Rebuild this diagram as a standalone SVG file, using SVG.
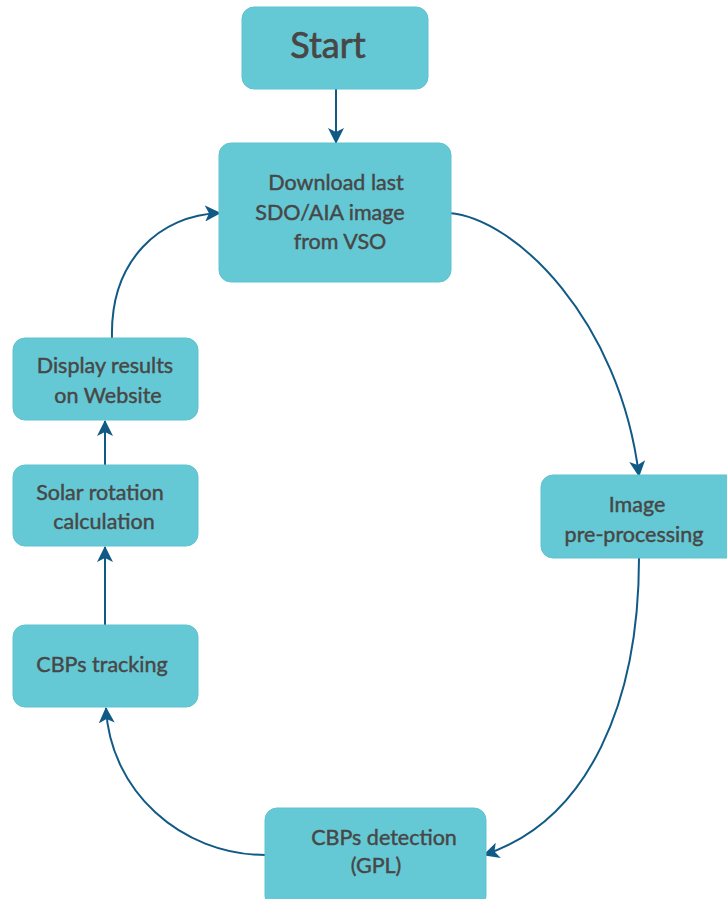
<svg xmlns="http://www.w3.org/2000/svg" width="727" height="899" viewBox="0 0 727 899">
  <style>
    .box { fill: #65c9d5; stroke: #5fc3d0; stroke-width: 1; }
    .label { font-family: Lato, "Liberation Sans", sans-serif; font-size: 21.5px; fill: #474747; stroke: #474747; stroke-width: 0.45; text-anchor: middle; }
    .title { font-size: 36px; stroke-width: 0.7; }
    .edge { fill: none; stroke: #115a85; stroke-width: 2; marker-end: url(#arrow); }
  </style>
  <defs>
    <marker id="arrow" viewBox="0 0 16 16" refX="15" refY="8" markerWidth="16" markerHeight="16" orient="auto" markerUnits="userSpaceOnUse">
      <path d="M0,0 L16,8 L0,16 L4,8 Z" fill="#115a85"/>
    </marker>
  </defs>
  <rect width="727" height="899" fill="#ffffff"/>

  <g id="connectors">
    <path class="edge" d="M336,89 L336,143"/>
    <path class="edge" d="M449,213 C515,218 620,320 639,476"/>
    <path class="edge" d="M639,558 C639,700 590,820 484,855"/>
    <path class="edge" d="M266,855 C180,855 110,790 106,708"/>
    <path class="edge" d="M105,625 L105,547"/>
    <path class="edge" d="M105,465 L105,421"/>
    <path class="edge" d="M112,338 C110,260 160,215 220,213"/>
  </g>

  <g id="start">
    <rect class="box" x="242" y="7" width="186" height="82" rx="12"/>
    <text class="label title" x="328" y="58">Start</text>
  </g>

  <g id="download">
    <rect class="box" x="219" y="143" width="232" height="139" rx="12"/>
    <text class="label" x="336" y="190">Download last</text>
    <text class="label" x="330" y="220">SDO/AIA image</text>
    <text class="label" x="340" y="249">from VSO</text>
  </g>

  <g id="preprocessing">
    <rect class="box" x="541" y="475" width="200" height="83" rx="12"/>
    <text class="label" x="637" y="512">Image</text>
    <text class="label" x="634" y="542">pre-processing</text>
  </g>

  <g id="detection">
    <rect class="box" x="265" y="808" width="221" height="100" rx="12"/>
    <text class="label" x="384" y="845">CBPs detection</text>
    <text class="label" x="376" y="873">(GPL)</text>
  </g>

  <g id="tracking">
    <rect class="box" x="13" y="625" width="185" height="82" rx="12"/>
    <text class="label" x="102" y="672">CBPs tracking</text>
  </g>

  <g id="rotation">
    <rect class="box" x="13" y="465" width="185" height="81" rx="12"/>
    <text class="label" x="100" y="500">Solar rotation</text>
    <text class="label" x="104" y="529">calculation</text>
  </g>

  <g id="display">
    <rect class="box" x="13" y="338" width="185" height="82" rx="12"/>
    <text class="label" x="105" y="373">Display results</text>
    <text class="label" x="108" y="403">on Website</text>
  </g>
</svg>
